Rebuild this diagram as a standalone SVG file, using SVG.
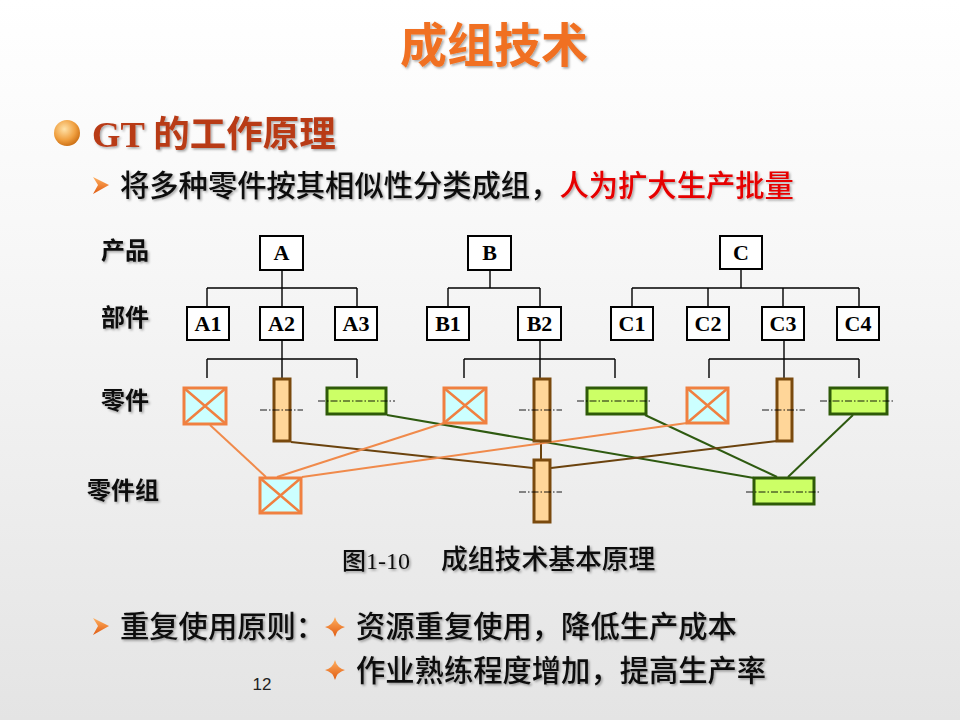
<svg xmlns="http://www.w3.org/2000/svg" width="960" height="720" viewBox="0 0 960 720">
<defs>
  <linearGradient id="bg" x1="0" y1="0" x2="0" y2="1">
    <stop offset="0" stop-color="#FFFFFF"/>
    <stop offset="0.35" stop-color="#F7F7F7"/>
    <stop offset="1" stop-color="#E4E4E4"/>
  </linearGradient>
  <radialGradient id="ball" cx="0.4" cy="0.35" r="0.7">
    <stop offset="0" stop-color="#FFE2A8"/>
    <stop offset="0.6" stop-color="#F0A040"/>
    <stop offset="1" stop-color="#C86A10"/>
  </radialGradient>
  <linearGradient id="arr" x1="0" y1="0" x2="0" y2="1">
    <stop offset="0" stop-color="#FFB060"/>
    <stop offset="1" stop-color="#E05A10"/>
  </linearGradient>
  <filter id="sh" x="-5%" y="-10%" width="115%" height="130%">
    <feDropShadow dx="1.5" dy="1.5" stdDeviation="0.8" flood-color="#000" flood-opacity="0.35"/>
  </filter>
  <style>
    .cjk { font-family: "Noto Sans CJK SC", "Noto Sans", sans-serif; }
    .ser { font-family: "Liberation Serif", "Noto Sans CJK SC", serif; }
    .title { font-size: 47px; font-weight: 700; fill: #F07020; }
    .head { font-size: 36.5px; font-weight: 700; fill: #B83A18; }
    .body { font-size: 29.3px; font-weight: 500; fill: #111; }
    .red { fill: #E60000; }
    .lbl { font-size: 24px; font-weight: 700; fill: #111; }
    .box { fill: #FFFFFF; stroke: #000; stroke-width: 2; }
    .boxt { font-family: "Liberation Serif", serif; font-size: 22px; font-weight: 700; fill: #000; text-anchor: middle; }
    .tree { fill: none; stroke: #000; stroke-width: 1.4; }
    .xbox { fill: #CCFFFF; stroke: #F08040; stroke-width: 3; }
    .xln { stroke: #F08040; stroke-width: 2.5; }
    .tall { fill: #FFD699; stroke: #7A4A0E; stroke-width: 3; }
    .flat { fill: #CCFF66; stroke: #2E5A08; stroke-width: 3; }
    .cl { stroke: #000; stroke-width: 0.9; stroke-dasharray: 7 2 1.5 2; fill: none; }
    .c-or { stroke: #F08A4B; stroke-width: 2; fill: none; }
    .c-br { stroke: #6B430E; stroke-width: 2; fill: none; }
    .c-gr { stroke: #2E5A10; stroke-width: 2; fill: none; }
    .star { fill: url(#arr); }
  </style>
</defs>
<rect x="0" y="0" width="960" height="720" fill="url(#bg)"/>

<g id="title" filter="url(#sh)">
  <text class="cjk title" x="494" y="62" text-anchor="middle">成组技术</text>
</g>

<g id="heading">
  <circle cx="67" cy="133" r="13" fill="url(#ball)"/>
  <text class="ser head" x="92" y="147" filter="url(#sh)">GT 的工作原理</text>
</g>

<g id="bullet1">
  <polygon points="93,177 109,185 93,194 98,185" fill="url(#arr)"/>
  <text class="cjk body" x="120" y="196" filter="url(#sh)">将多种零件按其相似性分类成组，<tspan class="red">人为扩大生产批量</tspan></text>
</g>

<g id="row-labels" filter="url(#sh)">
  <text class="cjk lbl" x="101" y="259">产品</text>
  <text class="cjk lbl" x="101" y="326">部件</text>
  <text class="cjk lbl" x="101" y="409">零件</text>
  <text class="cjk lbl" x="87" y="499">零件组</text>
</g>

<g id="connectors">
  <!-- tree lines -->
  <path class="tree" d="M282,270 V288 M207,288 H357 M207,288 V307 M282,288 V307 M357,288 V307"/>
  <path class="tree" d="M490,270 V288 M448,288 H540 M448,288 V307 M540,288 V307"/>
  <path class="tree" d="M741,270 V288 M632,288 H859 M632,288 V307 M708,288 V307 M783,288 V307 M859,288 V307"/>
  <path class="tree" d="M282,340 V359 M207,359 H357 M207,359 V378 M282,359 V378 M357,359 V378"/>
  <path class="tree" d="M540,340 V359 M464,359 H615 M464,359 V378 M540,359 V378 M615,359 V378"/>
  <path class="tree" d="M784,340 V359 M709,359 H859 M709,359 V378 M784,359 V378 M859,359 V378"/>
  <!-- grouping lines -->
  <line class="c-gr" x1="387" y1="415" x2="754" y2="478"/>
  <line class="c-gr" x1="645" y1="415" x2="777" y2="477"/>
  <line class="c-gr" x1="853" y1="415" x2="788" y2="477"/>
  <line class="c-br" x1="291" y1="442" x2="533" y2="468"/>
  <line class="c-br" x1="541" y1="442" x2="541" y2="459"/>
  <line class="c-br" x1="777" y1="441" x2="551" y2="468"/>
  <line class="c-or" x1="210" y1="425" x2="266" y2="477"/>
  <line class="c-or" x1="444" y1="423" x2="277" y2="477"/>
  <line class="c-or" x1="687" y1="423" x2="302" y2="477"/>
</g>

<g id="product-A"><rect class="box" x="260" y="236" width="43" height="34"/><text class="boxt" x="281.5" y="260">A</text></g>
<g id="product-B"><rect class="box" x="468" y="236" width="43" height="34"/><text class="boxt" x="489.5" y="260">B</text></g>
<g id="product-C"><rect class="box" x="720" y="236" width="42" height="33"/><text class="boxt" x="741" y="260">C</text></g>

<g id="comp-A1"><rect class="box" x="187" y="307" width="42" height="33"/><text class="boxt" x="208" y="331">A1</text></g>
<g id="comp-A2"><rect class="box" x="260" y="307" width="43" height="33"/><text class="boxt" x="281.5" y="331">A2</text></g>
<g id="comp-A3"><rect class="box" x="335" y="307" width="42" height="33"/><text class="boxt" x="356" y="331">A3</text></g>
<g id="comp-B1"><rect class="box" x="427" y="307" width="42" height="33"/><text class="boxt" x="448" y="331">B1</text></g>
<g id="comp-B2"><rect class="box" x="518" y="307" width="43" height="33"/><text class="boxt" x="539.5" y="331">B2</text></g>
<g id="comp-C1"><rect class="box" x="611" y="307" width="42" height="33"/><text class="boxt" x="632" y="331">C1</text></g>
<g id="comp-C2"><rect class="box" x="687" y="307" width="42" height="33"/><text class="boxt" x="708" y="331">C2</text></g>
<g id="comp-C3"><rect class="box" x="762" y="307" width="42" height="33"/><text class="boxt" x="783" y="331">C3</text></g>
<g id="comp-C4"><rect class="box" x="837" y="307" width="42" height="33"/><text class="boxt" x="858" y="331">C4</text></g>

<g id="part-A-x"><rect class="xbox" x="184" y="388" width="42" height="36"/><path class="xln" d="M184,388 L226,424 M226,388 L184,424"/></g>
<g id="part-A-tall"><rect class="tall" x="274" y="379" width="16" height="62"/><line class="cl" x1="260" y1="410" x2="303" y2="410"/></g>
<g id="part-A-flat"><rect class="flat" x="327" y="388" width="59" height="26"/><line class="cl" x1="318" y1="401" x2="395" y2="401"/></g>

<g id="part-B-x"><rect class="xbox" x="444" y="388" width="42" height="35"/><path class="xln" d="M444,388 L486,423 M486,388 L444,423"/></g>
<g id="part-B-tall"><rect class="tall" x="534" y="379" width="16" height="62"/><line class="cl" x1="519" y1="410" x2="562" y2="410"/></g>
<g id="part-B-flat"><rect class="flat" x="587" y="388" width="59" height="26"/><line class="cl" x1="577" y1="401" x2="652" y2="401"/></g>

<g id="part-C-x"><rect class="xbox" x="687" y="388" width="41" height="35"/><path class="xln" d="M687,388 L728,423 M728,388 L687,423"/></g>
<g id="part-C-tall"><rect class="tall" x="777" y="379" width="15" height="62"/><line class="cl" x1="762" y1="410" x2="805" y2="410"/></g>
<g id="part-C-flat"><rect class="flat" x="830" y="388" width="57" height="26"/><line class="cl" x1="820" y1="401" x2="893" y2="401"/></g>

<g id="group-x"><rect class="xbox" x="260" y="478" width="41" height="35"/><path class="xln" d="M260,478 L301,513 M301,478 L260,513"/></g>
<g id="group-tall"><rect class="tall" x="534" y="460" width="16" height="62"/><line class="cl" x1="519" y1="492" x2="562" y2="492"/></g>
<g id="group-flat"><rect class="flat" x="754" y="478" width="60" height="26"/><line class="cl" x1="746" y1="492" x2="820" y2="492"/></g>

<g id="caption" filter="url(#sh)">
  <text class="ser" x="342" y="569" font-size="24" font-weight="500" fill="#111">图1-10</text>
  <text class="cjk" x="441" y="569" font-size="26.8" font-weight="500" fill="#111">成组技术基本原理</text>
</g>

<g id="bullet2">
  <polygon points="93,618 109,626 93,635 98,626" fill="url(#arr)"/>
  <text class="cjk body" x="120" y="637" filter="url(#sh)">重复使用原则：</text>
  <path class="star" d="M335,617 Q337,625 345,627 Q337,629 335,637 Q333,629 325,627 Q333,625 335,617 Z"/>
  <text class="cjk body" x="356" y="637" filter="url(#sh)">资源重复使用，降低生产成本</text>
  <path class="star" d="M335,660 Q337,668 345,670 Q337,672 335,680 Q333,672 325,670 Q333,668 335,660 Z"/>
  <text class="cjk body" x="356" y="681" filter="url(#sh)">作业熟练程度增加，提高生产率</text>
</g>

<g id="page-number">
  <text x="262" y="690" font-family="Liberation Sans, Arial, sans-serif" font-size="17" fill="#222" text-anchor="middle">12</text>
</g>
</svg>
